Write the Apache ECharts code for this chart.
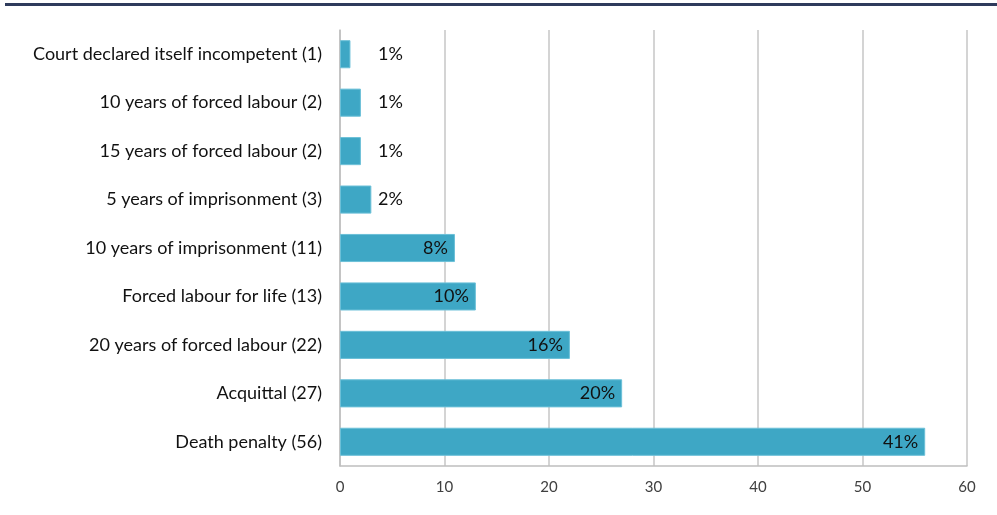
<!DOCTYPE html>
<html><head><meta charset="utf-8">
<script src="https://cdn.jsdelivr.net/npm/echarts@6/dist/echarts.min.js"></script>
<style>html,body{margin:0;padding:0;background:#fff}#c{width:997px;height:515px}</style>
</head><body><div id="c"></div>
<script>
const categories = ["Death penalty (56)","Acquittal (27)","20 years of forced labour (22)","Forced labour for life (13)","10 years of imprisonment (11)","5 years of imprisonment (3)","15 years of forced labour (2)","10 years of forced labour (2)","Court declared itself incompetent (1)"];
const counts = [56,27,22,13,11,3,2,2,1];
const percents = ["41%","20%","16%","10%","8%","2%","1%","1%","1%"];
const xTicks = [0,10,20,30,40,50,60];

const font = "Lato";
const chart = echarts.init(document.getElementById('c'));
chart.setOption({
  animation:false,
  grid:{left:340,right:30,top:30,bottom:49,containLabel:false},
  xAxis:{type:'value',min:xTicks[0],max:xTicks[xTicks.length-1],interval:xTicks[1]-xTicks[0],
    axisLine:{show:true,lineStyle:{color:'#bfbfbf',width:1.5}},
    axisTick:{show:false},
    splitLine:{show:true,lineStyle:{color:'#c6c6c6',width:1.5}},
    axisLabel:{color:'#404040',fontFamily:font,fontSize:15,margin:14}},
  yAxis:{type:'category',data:categories,
    axisLine:{show:true,lineStyle:{color:'#bfbfbf',width:1.5}},
    axisTick:{show:false},
    axisLabel:{color:'#111',fontFamily:font,fontSize:18,margin:18}},
  series:[{type:'bar',barCategoryGap:'42%',
    data:counts.map((v,i)=>({value:v,label:{
      show:true,formatter:percents[i],
      position: v<5 ? [38,'50%'] : 'insideRight',
      verticalAlign:'middle',
      distance: 7,
      color:'#111',fontFamily:font,fontSize:18}})),
    itemStyle:{color:'#3ea7c5',borderColor:'#6cc0d8',borderWidth:1}
  }],
  graphic:[{type:'rect',shape:{x:5,y:3,width:992,height:3},style:{fill:'#2e3b5c'}}]
});
</script></body></html>
